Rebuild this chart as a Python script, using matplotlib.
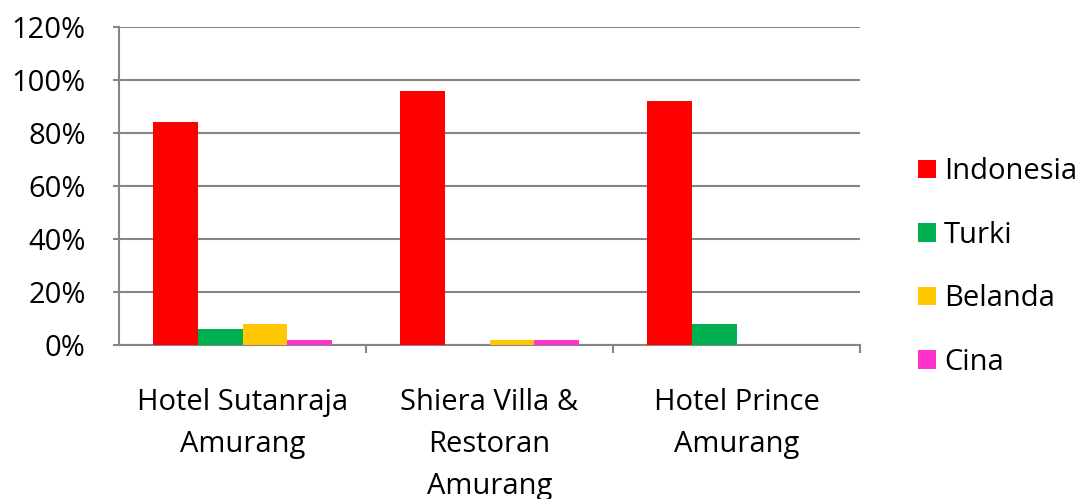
import matplotlib
matplotlib.use("Agg")
import matplotlib.pyplot as plt
import numpy as np
from matplotlib.patches import Patch

categories = ["Hotel Sutanraja\nAmurang", "Shiera Villa &\nRestoran\nAmurang", "Hotel Prince\nAmurang"]
series_names = ["Indonesia", "Turki", "Belanda", "Cina"]
indonesia = [84, 96, 92]
turki = [6, 0, 8]
belanda = [8, 2, 0]
cina = [2, 2, 0]
colors = ["#FF0000", "#00B050", "#FFC800", "#FF33CC"]
yticks = [0, 20, 40, 60, 80, 100, 120]

plt.rcParams['font.family'] = ['Open Sans', 'DejaVu Sans']
fig = plt.figure(figsize=(10.81, 4.99), dpi=100)
ax = fig.add_axes([119/1081, (499-345)/499, (860-119)/1081, (345-27)/499])

data = [indonesia, turki, belanda, cina]
x = np.arange(len(categories))
w = 1/5.5
for i, (vals, c) in enumerate(zip(data, colors)):
    ax.bar(x + (i - 1.5) * w, vals, width=w, color=c, zorder=3, linewidth=0)

grid_c = "#868686"
fs = 21
ax.set_ylim(0, 120)
ax.set_xlim(-0.5, len(categories) - 0.5)
ax.set_yticks(yticks)
ax.set_yticklabels([f"{v}%" for v in yticks], fontsize=fs)
ax.yaxis.grid(True, color=grid_c, linewidth=1.5, zorder=0)
ax.set_xticks(x)
ax.set_xticklabels(categories, fontsize=fs, linespacing=1.58)
ax.tick_params(axis='x', length=0, pad=31)
ax.set_xticks(np.arange(len(categories)) + 0.5, minor=True)
ax.tick_params(axis='x', which='minor', length=6, width=1.5, color=grid_c)
ax.tick_params(axis='y', length=4, width=1.5, color=grid_c, pad=20)
for s in ['top', 'right']:
    ax.spines[s].set_visible(False)
for s in ['left', 'bottom']:
    ax.spines[s].set_color(grid_c)
    ax.spines[s].set_linewidth(1.5)

handles = [Patch(facecolor=c, label=n) for c, n in zip(colors, series_names)]
fig.legend(handles=handles, loc='center left', bbox_to_anchor=(918/1081, (499-267)/499),
           frameon=False, fontsize=fs, handlelength=0.6, handleheight=0.6,
           labelspacing=1.18, handletextpad=0.3, borderpad=0, borderaxespad=0)

fig.savefig("out.png", dpi=100)
